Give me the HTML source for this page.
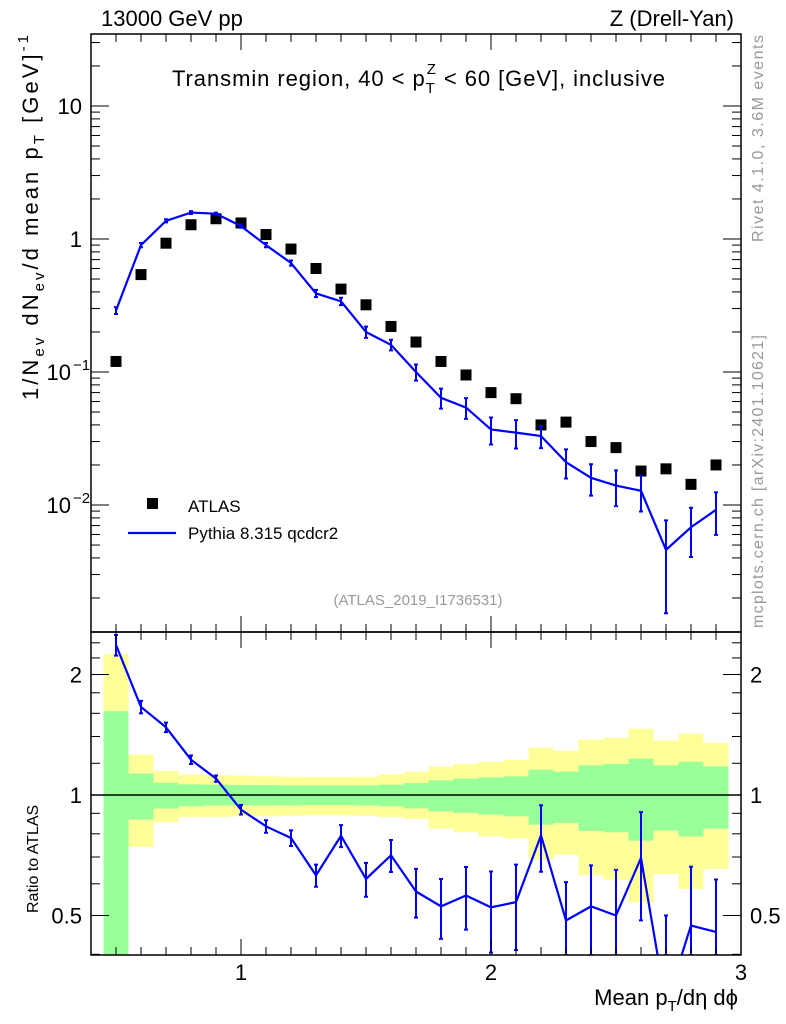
<!DOCTYPE html>
<html><head><meta charset="utf-8"><style>
body{margin:0;background:#fff;}
svg{display:block;font-family:"Liberation Sans",Arial,sans-serif;}
</style></head><body>
<svg id="c" width="786" height="1024" viewBox="0 0 786 1024"></svg>
<script>
const xs=[0.5,0.6,0.7,0.8,0.9,1.0,1.1,1.2,1.3,1.4,1.5,1.6,1.7,1.8,1.9,2.0,2.1,2.2,2.3,2.4,2.5,2.6,2.7,2.8,2.9];
const atlas=[0.12,0.54,0.93,1.28,1.42,1.32,1.08,0.84,0.60,0.42,0.32,0.22,0.168,0.12,0.095,0.07,0.063,0.04,0.042,0.030,0.027,0.018,0.0187,0.0143,0.020];
const pythia=[0.29,0.9,1.37,1.58,1.55,1.25,0.9,0.66,0.39,0.34,0.20,0.16,0.10,0.064,0.054,0.037,0.035,0.033,0.021,0.016,0.014,0.0128,0.0046,0.0068,0.0092];
const ratio=[2.37,1.659,1.476,1.225,1.099,0.919,0.835,0.781,0.630,0.791,0.617,0.707,0.574,0.527,0.561,0.524,0.540,0.793,0.486,0.527,0.50,0.696,0.30,0.472,0.455];
const ratioErr=[0.14,0.06,0.04,0.03,0.02,0.025,0.03,0.035,0.04,0.05,0.06,0.065,0.08,0.09,0.1,0.12,0.13,0.15,0.12,0.14,0.15,0.21,0.2,0.19,0.16];
const greenHi=[1.62,1.131,1.073,1.063,1.061,1.059,1.059,1.057,1.057,1.057,1.057,1.061,1.071,1.088,1.099,1.107,1.113,1.157,1.144,1.186,1.195,1.232,1.186,1.211,1.179];
const greenLo=[0.3,0.868,0.925,0.937,0.942,0.942,0.942,0.942,0.944,0.944,0.942,0.937,0.926,0.910,0.902,0.893,0.885,0.843,0.851,0.813,0.807,0.769,0.815,0.788,0.824];
const yellowHi=[2.25,1.261,1.148,1.124,1.120,1.118,1.113,1.111,1.109,1.109,1.111,1.126,1.144,1.177,1.195,1.211,1.225,1.313,1.288,1.375,1.391,1.464,1.367,1.423,1.349];
const yellowLo=[0.3,0.742,0.855,0.880,0.881,0.885,0.885,0.888,0.890,0.890,0.887,0.881,0.871,0.824,0.807,0.788,0.778,0.689,0.709,0.630,0.614,0.539,0.635,0.582,0.653];
const xTicks=[1,2,3];
const yTicks=[{v:10,t:"10"},{v:1,t:"1"},{v:0.1,t:"10",e:"−1"},{v:0.01,t:"10",e:"−2"}];
const rTicks=[2,1,0.5];

const svg=document.getElementById('c');const NS="http://www.w3.org/2000/svg";
function el(tag,at,parent){const e=document.createElementNS(NS,tag);for(const k in at)e.setAttribute(k,at[k]);(parent||svg).appendChild(e);return e;}
const L=91,R=741,T=34,B=632,RT=632,RB=955;
const X=v=>L+(v-0.4)/2.6*(R-L);
const Y=v=>239-133*Math.log10(v);
const RY=v=>Math.max(RT,Math.min(RB,795-120.5*Math.log2(v)));
const clipM=el('clipPath',{id:'cm'});el('rect',{x:L,y:T,width:R-L,height:B-T},clipM);
const clipR=el('clipPath',{id:'cr'});el('rect',{x:L,y:RT,width:R-L,height:RB-RT},clipR);

const gb=el('g',{'clip-path':'url(#cr)'});
xs.forEach((x,i)=>{
 const a=X(x-0.05),w=X(x+0.05)-a;
 const y=el('rect',{x:a,y:RY(yellowHi[i]),width:w,height:RY(yellowLo[i])-RY(yellowHi[i]),fill:'#ffff99'},gb);
 
 const g=el('rect',{x:a,y:RY(greenHi[i]),width:w,height:RY(greenLo[i])-RY(greenHi[i]),fill:'#99ff99'},gb);
 
});
el('line',{x1:L,x2:R,y1:RY(1),y2:RY(1),stroke:'#000','stroke-width':1.5});

const gm=el('g',{'clip-path':'url(#cm)'});
xs.forEach((x,i)=>{
 const s=el('rect',{x:X(x)-5.5,y:Y(atlas[i])-5.5,width:11,height:11,fill:'#000'},gm);
 
 const rel=ratioErr[i]/ratio[i];
 const e=el('path',{d:`M${X(x)},${Y(pythia[i]*(1+rel))}V${Y(Math.max(1e-4,pythia[i]*(1-rel)))}M${X(x)-2},${Y(pythia[i]*(1+rel))}h4M${X(x)-2},${Y(Math.max(1e-4,pythia[i]*(1-rel)))}h4`,stroke:'#0000ff','stroke-width':2,fill:'none'},gm);
 
});
const pl=el('polyline',{points:xs.map((x,i)=>X(x)+','+Y(pythia[i])).join(' '),fill:'none',stroke:'#0000ff','stroke-width':2.2},gm);


const gr=el('g',{'clip-path':'url(#cr)'});
xs.forEach((x,i)=>{
 const hi=RY(ratio[i]+ratioErr[i]),lo=RY(Math.max(0.01,ratio[i]-ratioErr[i]));
 const e=el('path',{d:`M${X(x)},${hi}V${lo}M${X(x)-2},${hi}h4M${X(x)-2},${lo}h4`,stroke:'#0000ff','stroke-width':2,fill:'none'},gr);
 
});
const rl=el('polyline',{points:xs.map((x,i)=>X(x)+','+(795-120.5*Math.log2(ratio[i]))).join(' '),fill:'none',stroke:'#0000ff','stroke-width':2.2},gr);


el('rect',{x:L,y:T,width:R-L,height:B-T,fill:'none',stroke:'#000','stroke-width':1.5});
el('rect',{x:L,y:RT,width:R-L,height:RB-RT,fill:'none',stroke:'#000','stroke-width':1.5});

for(let k=0;k<=26;k++){const v=0.4+k*0.1,x=X(v),maj=Math.abs(v-Math.round(v))<1e-6,h=maj?16:8;
 el('line',{x1:x,x2:x,y1:T,y2:T+h,stroke:'#000'});el('line',{x1:x,x2:x,y1:B,y2:B-h,stroke:'#000'});
 el('line',{x1:x,x2:x,y1:RT,y2:RT+h,stroke:'#000'});el('line',{x1:x,x2:x,y1:RB,y2:RB-h,stroke:'#000'});}
xTicks.forEach(v=>{const t=el('text',{x:X(v),y:980,'font-size':22,'text-anchor':'middle'});t.textContent=v;
 });

for(let d=-3;d<=1;d++)for(let m=1;m<=9;m++){const v=m*Math.pow(10,d),y=Y(v);if(y<T||y>B)continue;const h=m==1?18:9;
 el('line',{x1:L,x2:L+h,y1:y,y2:y,stroke:'#000'});el('line',{x1:R,x2:R-h,y1:y,y2:y,stroke:'#000'});}
yTicks.forEach(o=>{const t=el('text',{x:o.e?71:82,y:Y(o.v)+8,'font-size':22,'text-anchor':'end'});t.textContent=o.t;
 
 if(o.e){const s=el('text',{x:73,y:Y(o.v)-2,'font-size':15,'text-anchor':'start'});s.textContent=o.e;}});
[0.4,0.5,0.6,0.7,0.8,0.9,1,1.2,1.4,1.6,1.8,2,2.2,2.4].forEach(v=>{const y=RY(v);if(y<=RT||y>=RB)return;const maj=rTicks.includes(v),h=maj?18:9;
 el('line',{x1:L,x2:L+h,y1:y,y2:y,stroke:'#000'});el('line',{x1:R,x2:R-h,y1:y,y2:y,stroke:'#000'});});
rTicks.forEach(v=>{const t=el('text',{x:82,y:RY(v)+8,'font-size':22,'text-anchor':'end'});t.textContent=v;
 
 const t2=el('text',{x:750,y:RY(v)+8,'font-size':22});t2.textContent=v;});
</script>
<svg style="position:absolute;left:0;top:0" width="786" height="1024" font-family="Liberation Sans, Arial, sans-serif">
<text x="101" y="26" font-size="22">13000 GeV pp</text>
<text x="734" y="26" font-size="22" text-anchor="end">Z (Drell-Yan)</text>
<text x="172" y="86" font-size="22" textLength="493" lengthAdjust="spacing">Transmin region, 40 &lt; p<tspan font-size="15" dy="7">T</tspan><tspan font-size="15" dx="-9" dy="-19">Z</tspan><tspan dy="12"> &lt; 60 [GeV], inclusive</tspan></text>
<text x="418" y="605" font-size="15" fill="#999" text-anchor="middle">(ATLAS_2019_I1736531)</text>
<rect x="147" y="498" width="11" height="11" fill="#000"/>
<text x="188" y="512" font-size="17">ATLAS</text>
<line x1="128" x2="176" y1="533" y2="533" stroke="#0000ff" stroke-width="2.2"/>
<text x="188" y="539" font-size="17">Pythia 8.315 qcdcr2</text>
<text transform="translate(38,400) rotate(-90)" font-size="22" textLength="365" lengthAdjust="spacing">1/N<tspan font-size="15" dy="6">ev</tspan><tspan dy="-6"> dN</tspan><tspan font-size="15" dy="6">ev</tspan><tspan dy="-6">/d mean p</tspan><tspan font-size="15" dy="6">T</tspan><tspan dy="-6"> [GeV]</tspan><tspan font-size="15" dy="-10">-1</tspan></text>
<text transform="translate(38,913) rotate(-90)" font-size="16">Ratio to ATLAS</text>
<text x="738" y="1005" font-size="22" text-anchor="end">Mean p<tspan font-size="15" dy="6">T</tspan><tspan dy="-6">/dη dϕ</tspan></text>
<text transform="translate(763,242) rotate(-90)" font-size="16" fill="#999" textLength="207" lengthAdjust="spacing">Rivet 4.1.0,  3.6M events</text>
<text transform="translate(763,628) rotate(-90)" font-size="16" fill="#999" textLength="293" lengthAdjust="spacing">mcplots.cern.ch [arXiv:2401.10621]</text>
</svg>
</body></html>
